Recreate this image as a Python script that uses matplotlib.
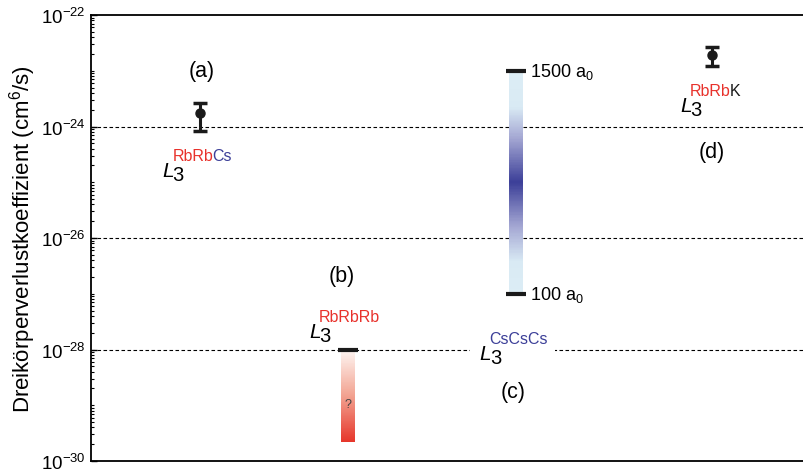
import numpy as np
import matplotlib.pyplot as plt
from matplotlib.colors import LinearSegmentedColormap
from matplotlib.ticker import LogLocator, NullFormatter

plt.rcParams['font.family'] = ['Liberation Sans', 'DejaVu Sans']
plt.rcParams['mathtext.fontset'] = 'custom'
plt.rcParams['mathtext.rm'] = 'Liberation Sans'
plt.rcParams['mathtext.it'] = 'Liberation Sans:italic'

# Messwerte mit Fehlerbalken (RbRbCs, RbRbK)
x_pts = [0.153, 0.871]
L3_pts = [1.75e-24, 1.94e-23]
L3_lo = [8.3e-25, 1.23e-23]
L3_hi = [2.6e-24, 2.64e-23]

# Bereiche als Farbverlauf (RbRbRb, CsCsCs)
x_rb, rb_range = 0.360, [2.2e-30, 1e-28]
x_cs, cs_range = 0.596, [1e-27, 1e-23]

ytick_vals = [1e-22, 1e-24, 1e-26, 1e-28, 1e-30]
ytick_labels = ['$10^{-22}$', '$10^{-24}$', '$10^{-26}$', '$10^{-28}$', '$10^{-30}$']
grid_vals = [1e-24, 1e-26, 1e-28]

red = '#e8322c'
blue = '#3c3f98'
bar_w = 0.0196

fig = plt.figure(figsize=(8.04, 4.77), dpi=100)
ax = fig.add_axes([91 / 804, 15 / 477, 713 / 804, 446 / 477])
ax.set_yscale('log')
ax.set_ylim(1e-30, 1e-22)
ax.set_xlim(0, 1)

for g in grid_vals:
    ax.axhline(g, color='black', lw=0.8, dashes=(3.2, 2.2), zorder=1)

# RbRbRb: von weiss nach rot
cmap_rb = LinearSegmentedColormap.from_list('rb', ['#fef6f3', '#f2a290', '#e6362b'])
ye = np.logspace(np.log10(rb_range[0]), np.log10(rb_range[1]), 200)
c = np.linspace(1, 0, len(ye) - 1)[:, None]
ax.pcolormesh([x_rb - bar_w / 2, x_rb + bar_w / 2], ye, c, cmap=cmap_rb,
              vmin=0, vmax=1, zorder=2, shading='flat')
ax.plot([x_rb], [rb_range[1]], marker='_', ms=14, mew=3, color='#1a1a1a', zorder=3)
ax.text(x_rb, np.sqrt(rb_range[0] * rb_range[1]) * 0.7, '?', ha='center',
        va='center', fontsize=9, color='#444444', zorder=4)

# CsCsCs: hell - dunkelblau - hell
cmap_cs = LinearSegmentedColormap.from_list(
    'cs', [(0, '#dcedf5'), (0.14, '#d9eaf4'), (0.3, '#a4a7d3'), (0.5, blue),
           (0.7, '#a4a7d3'), (0.84, '#d9eaf4'), (1, '#dcedf5')])
ye = np.logspace(np.log10(cs_range[0]), np.log10(cs_range[1]), 300)
c = np.linspace(0, 1, len(ye) - 1)[:, None]
ax.pcolormesh([x_cs - bar_w / 2, x_cs + bar_w / 2], ye, c, cmap=cmap_cs,
              vmin=0, vmax=1, zorder=2, shading='flat')
ax.plot([x_cs, x_cs], cs_range, ls='none', marker='_', ms=14, mew=3,
        color='#1a1a1a', zorder=3)
ax.annotate('1500 a$_0$', (x_cs, cs_range[1]), xytext=(10, 0),
            textcoords='offset points', va='center', fontsize=13)
ax.annotate('100 a$_0$', (x_cs, cs_range[0]), xytext=(10, 0),
            textcoords='offset points', va='center', fontsize=13)

# Messpunkte
yerr = [np.array(L3_pts) - np.array(L3_lo), np.array(L3_hi) - np.array(L3_pts)]
ax.errorbar(x_pts, L3_pts, yerr=yerr, fmt='o', color='#1a1a1a', ms=6.5,
            capsize=5, capthick=2.5, elinewidth=2.2, zorder=5)


def rate_label(x, y, parts, bg=False):
    # L_3 mit mehrfarbigem Exponenten
    sup = ''.join(s for s, _ in parts)
    if bg:
        # weisser Hintergrund unter dem Label, damit die Hilfslinie aussetzt
        white = dict(fc='white', ec='none')
        ax.annotate('L', (x, y), style='italic', fontsize=15, va='baseline',
                    color='none', zorder=1.5, bbox=dict(white, pad=7))
        ax.annotate(sup, (x, y), xytext=(7.2, 11.5), textcoords='offset points',
                    fontsize=11.5, va='baseline', color='none', zorder=1.5,
                    bbox=dict(white, pad=5))
    ax.annotate('L', (x, y), style='italic', fontsize=15, va='baseline', zorder=6)
    ax.annotate('3', (x, y), xytext=(7.4, -3), textcoords='offset points',
                fontsize=14.5, va='baseline', zorder=6)
    prev = ax.annotate(parts[0][0], (x, y), xytext=(7.2, 11.5),
                       textcoords='offset points', fontsize=11.5,
                       color=parts[0][1], va='baseline', zorder=6)
    for s, col in parts[1:]:
        prev = ax.annotate(s, xy=(1, 0), xycoords=prev, xytext=(-0.8, 0),
                           textcoords='offset points', fontsize=11.5,
                           color=col, va='bottom', zorder=6)


rate_label(0.100, 1.3e-25, [('RbRb', red), ('Cs', blue)])
rate_label(0.306, 1.7e-28, [('RbRbRb', red)])
rate_label(0.545, 6.7e-29, [('CsCsCs', blue)], bg=True)
rate_label(0.826, 1.9e-24, [('RbRb', red), ('K', '#1a1a1a')])

for s, x, y in [('(a)', 0.155, 1.03e-23), ('(b)', 0.352, 2.1e-27),
                ('(c)', 0.592, 1.8e-29), ('(d)', 0.871, 3.6e-25)]:
    ax.text(x, y, s, ha='center', va='center', fontsize=15.5)

ax.set_yticks(ytick_vals)
ax.set_yticklabels(ytick_labels)
ax.yaxis.set_minor_locator(LogLocator(base=10, subs=np.arange(1, 10), numticks=50))
ax.yaxis.set_minor_formatter(NullFormatter())
ax.tick_params(axis='y', which='both', direction='in', labelsize=13.5, pad=4)
ax.tick_params(axis='y', which='major', length=4, width=1)
ax.tick_params(axis='y', which='minor', length=2.5, width=0.8)
ax.set_xticks([])
ax.spines['right'].set_visible(False)
for sp in ['left', 'top', 'bottom']:
    ax.spines[sp].set_linewidth(1.3)
ax.set_ylabel('Dreikörperverlustkoeffizient (cm$^6$/s)', fontsize=16, labelpad=2)

fig.savefig('out.png', dpi=100)
